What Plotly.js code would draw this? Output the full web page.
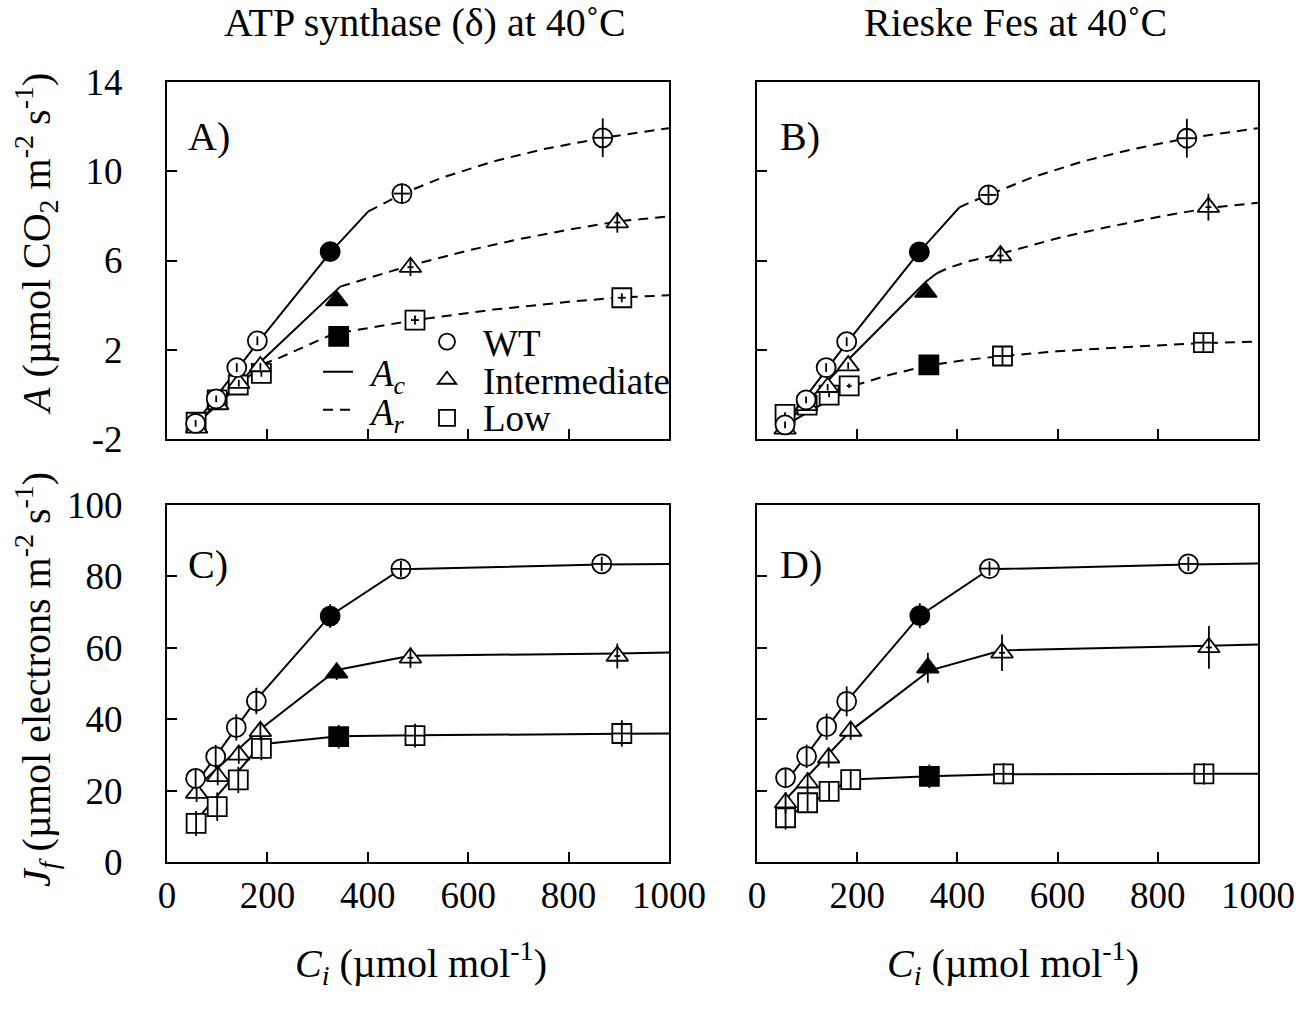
<!DOCTYPE html>
<html><head><meta charset="utf-8">
<script src="https://cdn.plot.ly/plotly-3.0.1.min.js"></script>
<style>html,body{margin:0;padding:0;background:#fff}</style>
</head><body><div id="chart" style="width:1310px;height:1009px"></div>
<script>
// ---------- tick labels ----------
const xTicks = [0, 200, 400, 600, 800, 1000];
const aTicks = [-2, 2, 6, 10, 14];
const jTicks = [0, 20, 40, 60, 80, 100];
const filledFlag = [0, 0, 0, 0, 1, 0, 0];   // the ambient-CO2 point is drawn filled

// ---------- Panel A: ATP synthase, net assimilation ----------
const A_WT_ci = [57, 98, 139, 180, 325, 468, 868];
const A_WT_A = [-1.3, -0.2, 1.2, 2.4, 6.4, 9.0, 11.5];
const A_WT_errA = [0.15, 0.15, 0.2, 0.2, 0.3, 0.45, 0.87];
const A_WT_errCi = [0, 0, 0, 0, 0, 16, 20];
const A_Int_ci = [59, 101, 143, 186, 338, 485, 897];
const A_Int_A = [-1.5, -0.45, 0.5, 1.25, 4.2, 5.7, 7.7];
const A_Int_errA = [0.1, 0.1, 0.15, 0.15, 0.2, 0.4, 0.45];
const A_Int_errCi = [0, 0, 0, 0, 0, 6, 6];
const A_Low_ci = [58, 100, 142, 188, 342, 494, 906];
const A_Low_A = [-1.25, -0.25, 0.42, 0.94, 2.6, 3.33, 4.33];
const A_Low_errA = [0.1, 0.1, 0.1, 0.15, 0.2, 0.2, 0.2];
const A_Low_errCi = [0, 0, 0, 0, 0, 8, 8];
// model curves A (Ac = solid, Ar = dashed)
const A_WT_Ac_ci = [52, 180, 325, 401];
const A_WT_Ac = [-1.45, 2.3, 6.35, 8.2];
const A_WT_Ar_ci = [401, 470, 550, 650, 750, 870, 1000];
const A_WT_Ar = [8.2, 9.0, 9.73, 10.44, 10.99, 11.5, 11.93];
const A_Int_Ac_ci = [52, 186, 345];
const A_Int_Ac = [-1.45, 1.45, 4.83];
const A_Int_Ar_ci = [345, 485, 600, 700, 800, 897, 1000];
const A_Int_Ar = [4.83, 5.78, 6.45, 6.95, 7.38, 7.75, 7.98];
const A_Low_Ac_ci = [52, 190];
const A_Low_Ac = [-1.45, 1.35];
const A_Low_Ar_ci = [190, 220, 330, 494, 650, 800, 906, 1000];
const A_Low_Ar = [1.35, 1.6, 2.7, 3.33, 3.8, 4.15, 4.35, 4.44];

// ---------- Panel B: Rieske FeS, net assimilation ----------
const B_WT_ci = [56, 98, 138, 179, 324, 462, 858];
const B_WT_A = [-1.37, -0.25, 1.2, 2.36, 6.39, 8.94, 11.48];
const B_WT_errA = [0.15, 0.15, 0.2, 0.2, 0.3, 0.4, 0.87];
const B_WT_errCi = [0, 0, 0, 0, 0, 16, 20];
const B_Int_ci = [56, 99, 141, 182, 337, 486, 901];
const B_Int_A = [-1.55, -0.49, 0.32, 1.29, 4.58, 6.22, 8.39];
const B_Int_errA = [0.1, 0.1, 0.15, 0.15, 0.2, 0.35, 0.6];
const B_Int_errCi = [0, 0, 0, 0, 0, 6, 6];
const B_Low_ci = [56, 100, 144, 184, 343, 490, 891];
const B_Low_A = [-0.9, -0.48, -0.03, 0.38, 1.32, 1.72, 2.32];
const B_Low_errA = [0.1, 0.1, 0.1, 0.1, 0.2, 0.45, 0.45];
const B_Low_errCi = [0, 0, 0, 5, 0, 20, 20];
const B_WT_Ac_ci = [52, 179, 324, 392, 404];
const B_WT_Ac = [-1.45, 2.3, 6.39, 8.12, 8.38];
const B_WT_Ar_ci = [404, 420, 462, 550, 650, 750, 858, 1000];
const B_WT_Ar = [8.38, 8.55, 8.94, 9.73, 10.44, 10.99, 11.48, 11.93];
const B_Int_Ac_ci = [52, 182, 337, 359];
const B_Int_Ac = [-1.45, 1.55, 5.05, 5.43];
const B_Int_Ar_ci = [359, 380, 420, 486, 600, 700, 800, 901, 1000];
const B_Int_Ar = [5.43, 5.65, 5.95, 6.3, 7.0, 7.5, 7.95, 8.35, 8.59];
const B_Low_Ac_ci = [52, 195];
const B_Low_Ac = [-1.45, 0.4];
const B_Low_Ar_ci = [195, 260, 343, 420, 490, 600, 750, 891, 1000];
const B_Low_Ar = [0.4, 0.85, 1.3, 1.55, 1.72, 1.93, 2.14, 2.3, 2.37];

// ---------- Panel C: ATP synthase, electron transport ----------
const C_WT_ci = [57, 97, 138, 178, 325, 466, 866];
const C_WT_J = [23.4, 29.5, 37.7, 45.1, 68.9, 82.1, 83.5];
const C_WT_errJ = [2.5, 3.3, 3.7, 3.7, 3.3, 2.2, 2];
const C_WT_errCi = [0, 0, 0, 0, 0, 20, 20];
const C_Int_ci = [59, 101, 143, 186, 338, 485, 897];
const C_Int_J = [19.3, 24, 30, 36.6, 53, 57.2, 57.7];
const C_Int_errJ = [2.5, 2.5, 2.5, 2.5, 2, 2.8, 3.5];
const C_Int_errCi = [0, 0, 0, 0, 0, 6, 6];
const C_Low_ci = [58, 100, 142, 188, 342, 494, 906];
const C_Low_J = [10.8, 15.5, 23, 31.8, 35.1, 35.4, 36];
const C_Low_errJ = [3.5, 4, 3.7, 3.3, 3.3, 3.3, 3.7];
const C_Low_errCi = [0, 0, 0, 0, 0, 20, 20];
const C_WT_fit_ci = [53, 178, 325, 466, 866, 1000];
const C_WT_fit = [21, 45.5, 69, 82, 83.3, 83.5];
const C_Int_fit_ci = [53, 186, 338, 485, 897, 1000];
const C_Int_fit = [20.2, 37.2, 53.8, 57.8, 58.4, 58.7];
const C_Low_fit_ci = [53, 188, 342, 494, 906, 1000];
const C_Low_fit = [10.8, 33, 35.2, 35.5, 35.9, 36];

// ---------- Panel D: Rieske FeS, electron transport ----------
const D_WT_ci = [57, 99, 139, 179, 325, 464, 861];
const D_WT_J = [23.6, 29.6, 37.9, 45, 69, 82.2, 83.5];
const D_WT_errJ = [2.5, 3.3, 3.7, 4.2, 3.5, 2, 2];
const D_WT_errCi = [0, 0, 0, 0, 0, 20, 20];
const D_Int_ci = [57, 101, 143, 187, 341, 489, 902];
const D_Int_J = [16.6, 22.2, 29.2, 36.7, 54.4, 58.6, 60.1];
const D_Int_errJ = [3, 3, 2.8, 2.5, 4.2, 5.1, 6];
const D_Int_errCi = [0, 0, 0, 0, 0, 6, 6];
const D_Low_ci = [57, 101, 144, 187, 344, 492, 892];
const D_Low_J = [12.4, 16.6, 19.8, 23.1, 24, 24.7, 24.7];
const D_Low_errJ = [3.3, 2.8, 2.5, 2.8, 3.3, 3, 3];
const D_Low_errCi = [0, 0, 0, 0, 0, 20, 20];
const D_WT_fit_ci = [57, 179, 325, 464, 861, 1000];
const D_WT_fit = [22.2, 45, 69, 82, 83.3, 83.6];
const D_Int_fit_ci = [57, 187, 344, 489, 902, 1000];
const D_Int_fit = [17.5, 36.8, 53.6, 59.3, 60.6, 60.9];
const D_Low_fit_ci = [57, 187, 344, 492, 892, 1000];
const D_Low_fit = [12.4, 23.1, 24, 24.6, 24.7, 24.7];

// ---------- text ----------
const colTitles = ['ATP synthase (δ) at 40˚C', 'Rieske Fes at 40˚C'];
const panelLabels = ['A)', 'B)', 'C)', 'D)'];
const genotypeNames = ['WT', 'Intermediate', 'Low'];
const genotypeSymbols = ['circle', 'triangle-up', 'square'];
const yTitleA = '<i>A</i> (µmol CO<sub>2</sub> m<sup>-2</sup> s<sup>-1</sup>)';
const yTitleJ = '<i>J<sub>f</sub></i> (µmol electrons m<sup>-2</sup> s<sup>-1</sup>)';
const xTitle = '<i>C<sub>i</sub></i> (µmol mol<sup>-1</sup>)';
const lineNames = ['<i>A<sub>c</sub></i>', '<i>A<sub>r</sub></i>'];

// ---------- build ----------
const FONT = 'Liberation Serif, Times New Roman, serif';
const W = 1310, H = 1009;
const px = v => v / W, py = v => 1 - v / H;
const traces = [];
const LW = 2, MS = 19;

function lineTrace(xs, ys, ax, dashed, name) {
  traces.push({x: xs, y: ys, xaxis: ax[0], yaxis: ax[1], mode: 'lines', hoverinfo: 'skip', name: name || '',
    line: {color: 'black', width: LW, dash: dashed ? '10px,7px' : 'solid'}, showlegend: false});
}
function pointTraces(xs, ys, ex, ey, ax, g) {
  traces.push({x: xs, y: ys, xaxis: ax[0], yaxis: ax[1], mode: 'markers', name: genotypeNames[g],
    showlegend: false,
    marker: {symbol: genotypeSymbols[g], size: MS,
      color: filledFlag.map(f => f ? 'black' : 'white'),
      line: {color: 'black', width: 1.8}}});
  // error bars drawn above the markers, as in the original
  traces.push({x: xs, y: ys, xaxis: ax[0], yaxis: ax[1], mode: 'markers', showlegend: false, hoverinfo: 'skip',
    marker: {size: 1, color: 'rgba(0,0,0,0)'},
    error_y: {type: 'data', array: ey, visible: true, color: 'black', thickness: 1.8, width: 0},
    error_x: {type: 'data', array: ex, visible: true, color: 'black', thickness: 1.8, width: 0}});
}

const axA = ['x', 'y'], axB = ['x2', 'y2'], axC = ['x3', 'y3'], axD = ['x4', 'y4'];

// A lines
lineTrace(A_WT_Ac_ci, A_WT_Ac, axA, false, 'Ac');
lineTrace(A_WT_Ar_ci, A_WT_Ar, axA, true, 'Ar');
lineTrace(A_Int_Ac_ci, A_Int_Ac, axA, false, 'Ac');
lineTrace(A_Int_Ar_ci, A_Int_Ar, axA, true, 'Ar');
lineTrace(A_Low_Ac_ci, A_Low_Ac, axA, false, 'Ac');
lineTrace(A_Low_Ar_ci, A_Low_Ar, axA, true, 'Ar');
// B lines
lineTrace(B_WT_Ac_ci, B_WT_Ac, axB, false, 'Ac');
lineTrace(B_WT_Ar_ci, B_WT_Ar, axB, true, 'Ar');
lineTrace(B_Int_Ac_ci, B_Int_Ac, axB, false, 'Ac');
lineTrace(B_Int_Ar_ci, B_Int_Ar, axB, true, 'Ar');
lineTrace(B_Low_Ac_ci, B_Low_Ac, axB, false, 'Ac');
lineTrace(B_Low_Ar_ci, B_Low_Ar, axB, true, 'Ar');
// C, D lines
lineTrace(C_WT_fit_ci, C_WT_fit, axC, false);
lineTrace(C_Int_fit_ci, C_Int_fit, axC, false);
lineTrace(C_Low_fit_ci, C_Low_fit, axC, false);
lineTrace(D_WT_fit_ci, D_WT_fit, axD, false);
lineTrace(D_Int_fit_ci, D_Int_fit, axD, false);
lineTrace(D_Low_fit_ci, D_Low_fit, axD, false);

// points
pointTraces(A_Low_ci, A_Low_A, A_Low_errCi, A_Low_errA, axA, 2);
pointTraces(A_Int_ci, A_Int_A, A_Int_errCi, A_Int_errA, axA, 1);
pointTraces(A_WT_ci, A_WT_A, A_WT_errCi, A_WT_errA, axA, 0);
pointTraces(B_Low_ci, B_Low_A, B_Low_errCi, B_Low_errA, axB, 2);
pointTraces(B_Int_ci, B_Int_A, B_Int_errCi, B_Int_errA, axB, 1);
pointTraces(B_WT_ci, B_WT_A, B_WT_errCi, B_WT_errA, axB, 0);
pointTraces(C_Low_ci, C_Low_J, C_Low_errCi, C_Low_errJ, axC, 2);
pointTraces(C_Int_ci, C_Int_J, C_Int_errCi, C_Int_errJ, axC, 1);
pointTraces(C_WT_ci, C_WT_J, C_WT_errCi, C_WT_errJ, axC, 0);
pointTraces(D_Low_ci, D_Low_J, D_Low_errCi, D_Low_errJ, axD, 2);
pointTraces(D_Int_ci, D_Int_J, D_Int_errCi, D_Int_errJ, axD, 1);
pointTraces(D_WT_ci, D_WT_J, D_WT_errCi, D_WT_errJ, axD, 0);

// legend keys (symbols only; labels are set as text beside them)
[0, 1].forEach(i => traces.push({x: [null], y: [null], xaxis: 'x', yaxis: 'y', mode: 'lines', name: ' ',
  legend: 'legend', showlegend: true, legendrank: i + 1, hoverinfo: 'skip',
  line: {color: 'black', width: LW, dash: i ? '10px,7px' : 'solid'}}));
[0, 1, 2].forEach(g => traces.push({x: [null], y: [null], xaxis: 'x', yaxis: 'y', mode: 'markers', name: ' ',
  legend: 'legend2', showlegend: true, legendrank: g + 1, hoverinfo: 'skip',
  marker: {symbol: genotypeSymbols[g], size: MS, color: 'white', line: {color: 'black', width: 1.8}}}));

const xDomL = [px(167), px(669)], xDomR = [px(757), px(1258)];
const yDomT = [py(439), py(82)], yDomB = [py(862), py(505)];
const TICKFONT = {family: FONT, size: 37, color: 'black'};

function xaxis(dom, anchor, showLabels) {
  return {domain: dom, anchor: anchor, range: [0, 1000], tickvals: xTicks, ticktext: xTicks.map(String),
    ticks: 'inside', ticklen: 10, tickwidth: 2, tickcolor: 'black', showline: true, mirror: true,
    linecolor: 'black', linewidth: 2, showgrid: false, zeroline: false, showticklabels: showLabels,
    ticklabelstandoff: 0, tickfont: TICKFONT};
}
function yaxis(dom, anchor, range, ticks, showLabels) {
  return {domain: dom, anchor: anchor, range: range, tickvals: ticks, ticktext: ticks.map(String),
    ticks: 'inside', ticklen: 10, tickwidth: 2, tickcolor: 'black', showline: true, mirror: true,
    linecolor: 'black', linewidth: 2, showgrid: false, zeroline: false, showticklabels: showLabels,
    ticklabelstandoff: 35, tickfont: TICKFONT};
}

const ann = [];
function txt(x, y, text, opts) {
  ann.push(Object.assign({x: x, y: y, xref: 'paper', yref: 'paper', text: text, showarrow: false,
    font: {family: FONT, size: 40, color: 'black'}, xanchor: 'center', yanchor: 'middle'}, opts || {}));
}
txt(px(425), py(22), colTitles[0]);
txt(px(1015), py(22), colTitles[1]);
txt(px(186), py(137), panelLabels[0], {xanchor: 'left'});
txt(px(778), py(137), panelLabels[1], {xanchor: 'left'});
txt(px(186), py(564), panelLabels[2], {xanchor: 'left'});
txt(px(778), py(564), panelLabels[3], {xanchor: 'left'});
txt(px(421), py(963), xTitle);
txt(px(1013), py(963), xTitle);
txt(px(36), py(244), yTitleA, {textangle: -90});
txt(px(36), py(680), yTitleJ, {textangle: -90});
// legend labels
const LEGF = {family: FONT, size: 37, color: 'black'};
txt(px(366), py(376), lineNames[0], {xanchor: 'left', font: LEGF});
txt(px(366), py(415), lineNames[1], {xanchor: 'left', font: LEGF});
txt(px(481), py(343), genotypeNames[0], {xanchor: 'left', font: LEGF});
txt(px(481), py(381), genotypeNames[1], {xanchor: 'left', font: LEGF});
txt(px(481), py(418), genotypeNames[2], {xanchor: 'left', font: LEGF});

const layout = {
  width: W, height: H, margin: {l: 0, r: 0, t: 0, b: 0},
  paper_bgcolor: 'white', plot_bgcolor: 'rgba(0,0,0,0)',
  font: {family: FONT, size: 35, color: 'black'},
  xaxis: xaxis(xDomL, 'y', false),
  yaxis: yaxis(yDomT, 'x', [-2, 14], aTicks, true),
  xaxis2: xaxis(xDomR, 'y2', false),
  yaxis2: yaxis(yDomT, 'x2', [-2, 14], aTicks, false),
  xaxis3: xaxis(xDomL, 'y3', true),
  yaxis3: yaxis(yDomB, 'x3', [0, 100], jTicks, true),
  xaxis4: xaxis(xDomR, 'y4', true),
  yaxis4: yaxis(yDomB, 'x4', [0, 100], jTicks, false),
  legend: {x: px(318), y: py(347.6), xanchor: 'left', yanchor: 'top', bgcolor: 'rgba(0,0,0,0)',
    font: {family: FONT, size: 27, color: 'black'}, tracegroupgap: 0},
  legend2: {x: px(427), y: py(317.6), xanchor: 'left', yanchor: 'top', bgcolor: 'rgba(0,0,0,0)',
    font: {family: FONT, size: 27, color: 'black'}, tracegroupgap: 0},
  annotations: ann,
  showlegend: true
};

Plotly.newPlot('chart', traces, layout, {displayModeBar: false, staticPlot: true});
</script></body></html>
